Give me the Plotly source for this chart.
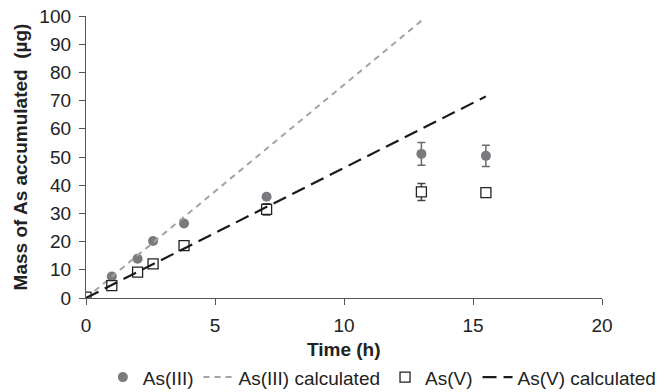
import plotly.graph_objects as go

time_h = [0, 1, 2, 2.6, 3.8, 7, 13, 15.5]
as3 = [0.3, 7.6, 13.9, 20.2, 26.4, 35.9, 51.1, 50.4]
as3_err = [0, 0, 0, 0, 0, 0, 4.0, 3.8]
as5 = [0.3, 4.4, 9.2, 12.1, 18.6, 31.4, 37.6, 37.4]
as5_err = [0, 0, 0, 0, 0, 2.0, 3.0, 1.5]
as3_calc_x = [0, 13.0]
as3_calc_y = [0, 98.3]
as5_calc_x = [0, 15.5]
as5_calc_y = [0, 71.5]

FONT = "Liberation Sans, Arial, sans-serif"
fig = go.Figure()
fig.add_trace(go.Scatter(
    x=time_h, y=as3, mode="markers", name="As(III)",
    marker=dict(symbol="circle", size=10, color="#7a7a7e"),
    error_y=dict(type="data", array=as3_err, visible=True, color="#6a6a6e",
                 thickness=1.5, width=4),
))
fig.add_trace(go.Scatter(
    x=as3_calc_x, y=as3_calc_y, mode="lines", name="As(III) calculated",
    line=dict(color="#a3a3a3", width=2, dash="6px,5px"),
))
fig.add_trace(go.Scatter(
    x=time_h, y=as5, mode="markers", name="As(V)",
    marker=dict(symbol="square", size=10, color="white",
                line=dict(color="#222222", width=1.3)),
    error_y=dict(type="data", array=as5_err, visible=True, color="#444444",
                 thickness=1.5, width=4),
))
fig.add_trace(go.Scatter(
    x=as5_calc_x, y=as5_calc_y, mode="lines", name="As(V) calculated",
    line=dict(color="#1a1a1a", width=2.2, dash="14px,7px"),
))

fig.update_layout(
    width=664, height=392,
    margin=dict(l=86, r=62, t=16, b=94, autoexpand=False),
    paper_bgcolor="white", plot_bgcolor="white",
    font=dict(family=FONT, size=19, color="#222222"),
    legend=dict(orientation="h", x=1.116, xanchor="right", y=-0.281, yanchor="middle",
                font=dict(size=19), itemwidth=30, borderwidth=0,
                tracegroupgap=0, bgcolor="rgba(0,0,0,0)"),
    showlegend=True,
    annotations=[dict(text="<b>Time (h)</b>", xref="paper", yref="paper",
                      x=0.5, y=-0.181, xanchor="center", yanchor="middle",
                      showarrow=False, font=dict(size=19, family=FONT, color="#222222"))],
)
fig.update_xaxes(
    range=[0, 20], tickvals=[0, 5, 10, 15, 20], showgrid=False, zeroline=False,
    showline=True, linecolor="#555555", linewidth=1.3,
    ticks="outside", ticklen=6, tickcolor="#555555", ticklabelstandoff=4,
)
fig.update_yaxes(
    range=[0, 100], tickvals=list(range(0, 101, 10)), showgrid=False, zeroline=False,
    showline=True, linecolor="#555555", linewidth=1.3,
    ticks="outside", ticklen=6, tickcolor="#555555", ticklabelstandoff=4,
    title=dict(text="<b>Mass of As accumulated\u00a0 (\u00b5g)</b>", font=dict(size=19), standoff=6),
)
fig.write_html("out.html")
